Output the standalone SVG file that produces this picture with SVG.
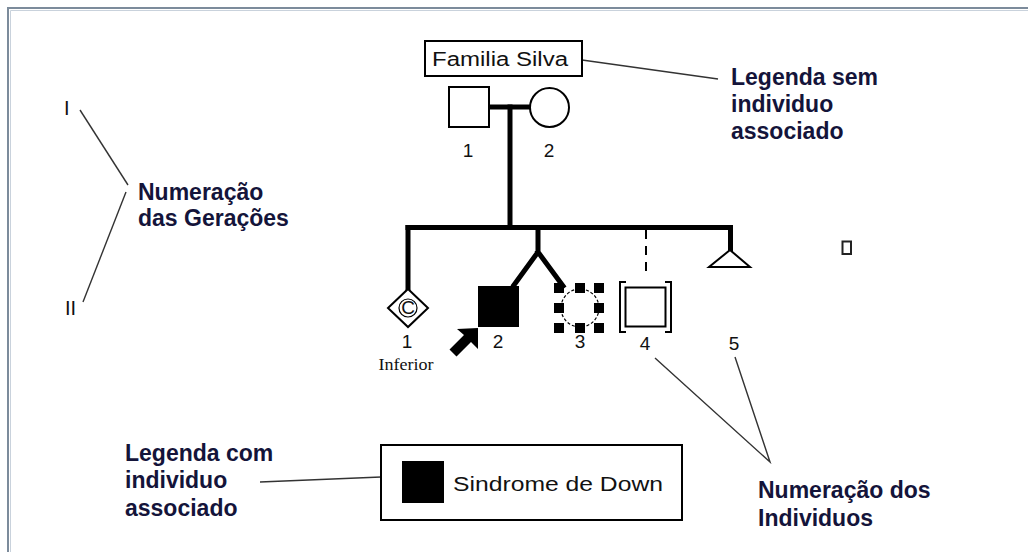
<svg xmlns="http://www.w3.org/2000/svg" width="1028" height="552" viewBox="0 0 1028 552">
<style>
.note{font-family:"Liberation Sans",Arial,sans-serif;font-weight:bold;font-size:23px;fill:#14143a}
.lbl{font-family:"Liberation Sans",Arial,sans-serif;font-size:20px;fill:#111}
.num{font-family:"Liberation Sans",Arial,sans-serif;font-size:19px;fill:#111;text-anchor:middle}
.thick{stroke:#000;stroke-width:5;fill:none;stroke-linecap:square}
.thin{stroke:#333;stroke-width:1.4;fill:none}
.shape{stroke:#000;stroke-width:2;fill:#fff}
</style>
<rect width="1028" height="552" fill="#fff"/>
<g id="frame">
<path d="M8 552 V8 H1028" fill="none" stroke="#7c8b9b" stroke-width="2"/>
<path d="M10.5 552 V10.5 H1028" fill="none" stroke="#c9d2dc" stroke-width="1"/>
</g>
<g id="connectors">
<path class="thick" d="M490 107 H530"/>
<path class="thick" d="M510 107 V227"/>
<path class="thick" d="M408 227.5 H730.5 V250" stroke-linecap="butt"/>
<path class="thick" d="M408 227.5 V289" stroke-linecap="butt"/>
<path class="thick" d="M538 228 V252 L514 285 M538 252 L563 286" stroke-linecap="butt" stroke-linejoin="miter"/>
<path d="M646 230 V277" stroke="#000" stroke-width="2" stroke-dasharray="9 7"/>
<path class="thin" d="M582 60 L718 79"/>
<path class="thin" d="M80 110 L128 185"/>
<path class="thin" d="M126 192 L83 302"/>
<path class="thin" d="M260 482 L381 477"/>
<path class="thin" d="M655 358 L770 462 L735 357"/>
</g>
<g id="familia-silva">
<rect x="425" y="41" width="157" height="35" class="shape" stroke-width="1.6"/>
<text x="432" y="66" class="lbl" font-size="22" textLength="136" lengthAdjust="spacingAndGlyphs">Familia Silva</text>
</g>
<g id="I-1">
<rect x="449" y="87" width="40" height="40" class="shape" stroke-width="1.6"/>
<text x="468" y="157" class="num">1</text>
</g>
<g id="I-2">
<circle cx="549.5" cy="107.5" r="19.5" class="shape" stroke-width="1.6"/>
<text x="549" y="157" class="num">2</text>
</g>
<g id="II-1">
<polygon points="408,289 428,308 408,327 388,308" class="shape" stroke-width="1.6"/>
<circle cx="408" cy="308" r="9" fill="none" stroke="#000" stroke-width="1.2"/>
<text x="408" y="314" class="num" font-size="16">C</text>
<text x="407" y="348" class="num">1</text>
<text x="406" y="370" font-family="'Liberation Serif','Times New Roman',serif" font-size="16" fill="#111" text-anchor="middle" textLength="55" lengthAdjust="spacingAndGlyphs">Inferior</text>
</g>
<g id="II-2">
<rect x="478" y="286" width="41" height="41" fill="#000"/>
<polygon points="478,328 457,329 464,335 449.5,349.5 456.5,356.5 471,342 478,349" fill="#000"/>
<text x="498" y="348" class="num">2</text>
</g>
<g id="II-3">
<circle cx="580" cy="308" r="19" fill="#fff" stroke="#000" stroke-width="1.2" stroke-dasharray="3 2"/>
<g fill="#000">
<rect x="554" y="283" width="10" height="10"/><rect x="575" y="283" width="10" height="10"/><rect x="594" y="283" width="10" height="10"/>
<rect x="554" y="303" width="10" height="10"/><rect x="594" y="303" width="10" height="10"/>
<rect x="554" y="323" width="10" height="10"/><rect x="575" y="323" width="10" height="10"/><rect x="594" y="323" width="10" height="10"/>
</g>
<text x="580" y="348" class="num">3</text>
</g>
<g id="II-4">
<path d="M626 282 H620 V332 H626 M665 282 H671 V332 H665" fill="none" stroke="#000" stroke-width="2"/>
<rect x="625.5" y="287.5" width="40" height="39" class="shape"/>
<text x="645" y="350" class="num">4</text>
</g>
<g id="II-5">
<polygon points="730,250 750,267 709,267" class="shape" stroke-width="1.6"/>
<text x="734" y="350" class="num">5</text>
</g>
<g id="small-box">
<rect x="842.5" y="241.5" width="8.5" height="12.5" fill="#fff" stroke="#222" stroke-width="2"/>
</g>
<g id="gen-labels">
<text x="64" y="115" class="lbl" font-size="21">I</text>
<text x="65" y="315" class="lbl" font-size="21">II</text>
</g>
<g id="note-geracoes">
<text x="138" y="200" class="note">Numeração</text>
<text x="138" y="226" class="note">das Gerações</text>
</g>
<g id="note-legenda-sem">
<text x="731" y="85" class="note">Legenda sem</text>
<text x="731" y="112" class="note">individuo</text>
<text x="731" y="139" class="note">associado</text>
</g>
<g id="note-legenda-com">
<text x="125" y="461" class="note">Legenda com</text>
<text x="125" y="488" class="note">individuo</text>
<text x="125" y="516" class="note">associado</text>
</g>
<g id="note-individuos">
<text x="758" y="498" class="note">Numeração dos</text>
<text x="758" y="526" class="note">Individuos</text>
</g>
<g id="legend">
<rect x="381" y="445" width="301" height="75" class="shape" stroke-width="1.8"/>
<rect x="402" y="461" width="42" height="42" fill="#000"/>
<text x="453" y="491" class="lbl" font-size="22" textLength="210" lengthAdjust="spacingAndGlyphs">Sindrome de Down</text>
</g>
</svg>
